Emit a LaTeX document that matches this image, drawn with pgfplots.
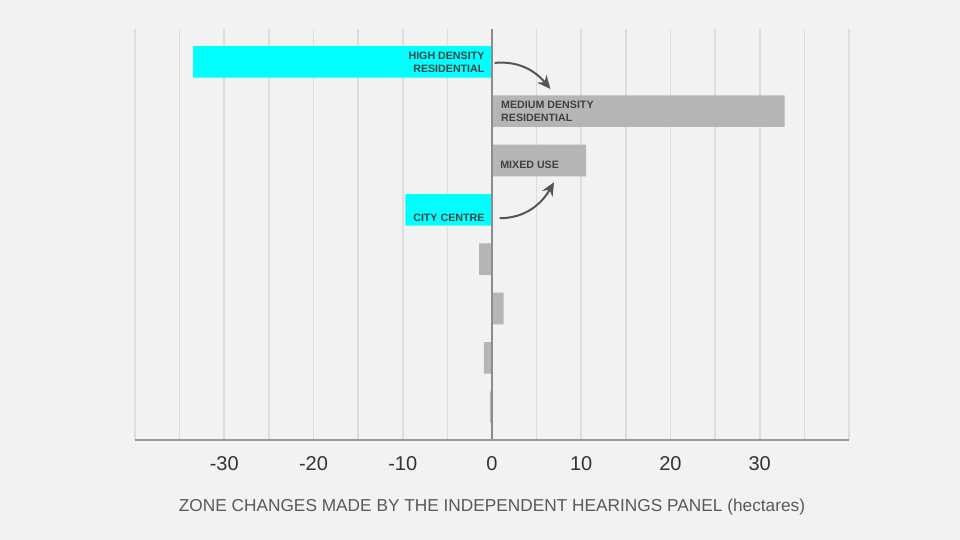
\documentclass[border=0pt]{standalone}
\usepackage{fontspec}
\setmainfont{Liberation Sans}
\usepackage{pgfplots}
\pgfplotsset{compat=1.18}
\usetikzlibrary{arrows.meta}
\definecolor{bg}{HTML}{F2F2F2}
\definecolor{gridc}{HTML}{DDDDDD}
\definecolor{barcyan}{HTML}{00FFFF}
\definecolor{bargray}{HTML}{B5B5B5}
\definecolor{txt}{HTML}{404040}
\definecolor{arrowc}{HTML}{555555}
\begin{document}
\begin{tikzpicture}
\path[use as bounding box, fill=bg] (-101.25bp,-75bp) rectangle (618.75bp,330bp);
\begin{axis}[
  at={(0,0)}, anchor=south west,
  scale only axis, width=535.5bp, height=308.25bp,
  xmin=-40, xmax=40, ymin=0.333, ymax=8.667,
  y dir=reverse,
  axis line style={draw=none},
  xtick={-30,-20,...,30},
  minor xtick={-40,-35,...,40},
  ytick=\empty,
  major tick length=0pt, minor tick length=0pt,
  xmajorgrids, xminorgrids,
  major grid style={gridc, line width=1.2bp},
  minor grid style={gridc, line width=1.2bp},
  /pgf/number format/assume math mode=true,
  xticklabel style={anchor=center, yshift=-17.5bp, font=\fontsize{15bp}{17bp}\selectfont, text=black!80},
  xlabel={ZONE CHANGES MADE BY THE INDEPENDENT HEARINGS PANEL (hectares)},
  xlabel style={anchor=center, at={(axis description cs:0.5,0)}, yshift=-50.5bp, font=\fontsize{12.95bp}{15bp}\selectfont, text=black!65},
  xbar, bar shift=0pt, bar width=0.64,
  clip=false,
]
\addplot[fill=barcyan, draw=none] coordinates {(-33.5,1) (-9.7,4)};
\addplot[fill=bargray, draw=none] coordinates {(32.8,2) (10.55,3) (-1.45,5) (1.3,6) (-0.9,7) (-0.2,8)};
\draw[black!45, line width=1.1bp] (axis cs:0,0.333) -- (axis cs:0,8.667);
\draw[black!40, line width=1.3bp] (axis description cs:0,0) -- (axis description cs:1,0);
\begin{scope}[font=\fontsize{8bp}{9.8bp}\selectfont\bfseries, text=txt]
\node[anchor=east, align=right, inner sep=0pt] at (axis cs:-0.82,1) {HIGH DENSITY\\RESIDENTIAL};
\node[anchor=west, align=left, inner sep=0pt] at (axis cs:1.0,2) {MEDIUM DENSITY\\RESIDENTIAL};
\node[anchor=west, align=left, inner sep=0pt] at (axis cs:0.9,3.078) {MIXED USE};
\node[anchor=east, align=right, inner sep=0pt] at (axis cs:-0.82,4.16) {CITY CENTRE};
\end{scope}
\draw[arrowc, line width=1.5bp, -{Stealth[length=10bp,width=9bp]}] (axis cs:0.3,1.02) to[out=5, in=130] (axis cs:6.55,1.55);
\draw[arrowc, line width=1.5bp, -{Stealth[length=10bp,width=9bp]}] (axis cs:0.85,4.17) to[out=0, in=-120] (axis cs:6.95,3.44);
\end{axis}
\end{tikzpicture}
\end{document}
